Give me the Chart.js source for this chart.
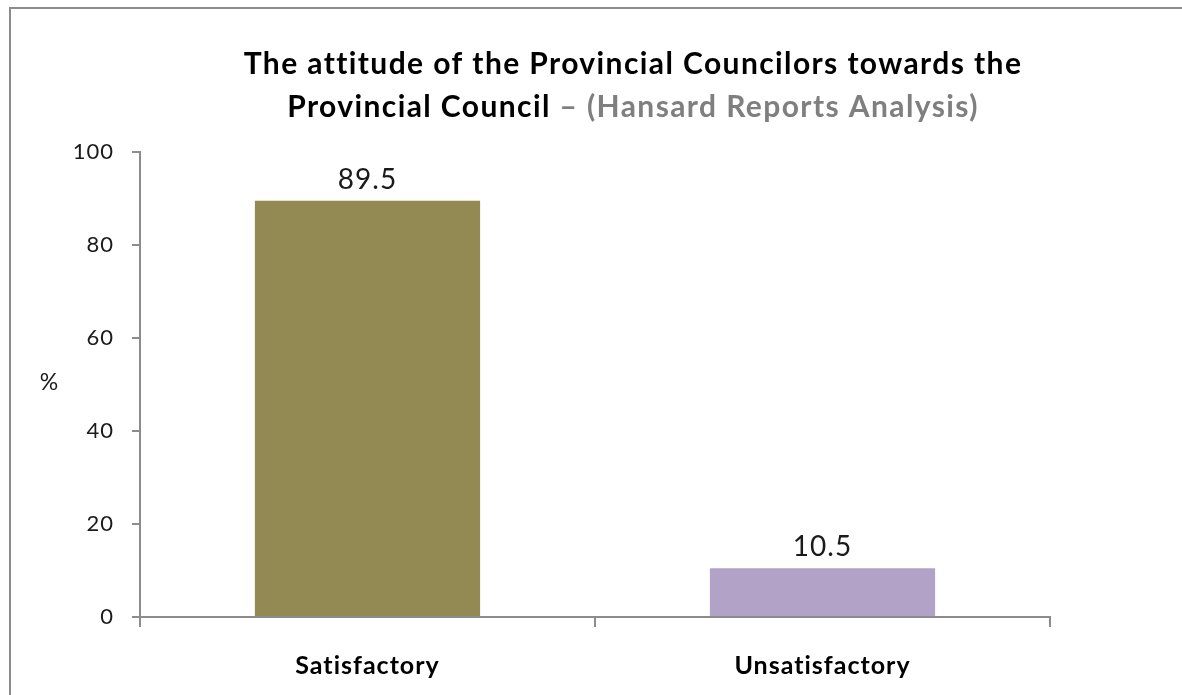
<!DOCTYPE html>
<html>
<head>
<meta charset="utf-8">
<script src="https://cdn.jsdelivr.net/npm/chart.js@4/dist/chart.umd.min.js"></script>
<style>
  html, body { margin: 0; padding: 0; background: #fff; }
  #wrap { width: 1182px; height: 695px; }
</style>
</head>
<body>
<div id="wrap"><canvas id="attitude-chart" width="1182" height="695"></canvas></div>
<script>
// --- data ---
const categories = ['Satisfactory', 'Unsatisfactory'];
const percentValues = [89.5, 10.5];
const barColors = ['#938953', '#B3A2C7'];
const yTicks = [0, 20, 40, 60, 80, 100];
const titleLine1 = 'The attitude of the Provincial Councilors towards the';
const titleLine2a = 'Provincial Council ';
const titleLine2b = '– (Hansard Reports Analysis)';
const yAxisLabel = '%';

const FONT = 'Lato, "Open Sans", sans-serif';

// frame, two-colour title, "%" label and value labels on top of the bars
const decorations = {
    id: 'decorations',
    beforeDraw(chart) {
        const ctx = chart.ctx;
        ctx.save();
        ctx.fillStyle = '#fff';
        ctx.fillRect(0, 0, chart.width, chart.height);
        ctx.strokeStyle = '#8c8c8c';
        ctx.lineWidth = 2;
        ctx.strokeRect(10, 8, 1300, 900);
        ctx.restore();
        // slightly looser text for the axis labels
        ctx.letterSpacing = '1px';
    },
    afterDraw(chart) {
        const ctx = chart.ctx;
        ctx.save();
        ctx.textBaseline = 'middle';

        // title
        ctx.font = 'bold 30px ' + FONT;
        ctx.letterSpacing = '1.4px';
        ctx.fillStyle = '#000';
        ctx.textAlign = 'center';
        ctx.fillText(titleLine1, 633, 64);
        const wa = ctx.measureText(titleLine2a).width;
        const wb = ctx.measureText(titleLine2b).width;
        const startX = 633 - (wa + wb) / 2;
        ctx.textAlign = 'left';
        ctx.fillText(titleLine2a, startX, 107);
        ctx.fillStyle = '#7f7f7f';
        ctx.fillText(titleLine2b, startX + wa, 107);

        // y axis label
        ctx.letterSpacing = '0px';
        ctx.font = '23px ' + FONT;
        ctx.fillStyle = '#1a1a1a';
        ctx.textAlign = 'center';
        ctx.fillText(yAxisLabel, 49, 383);

        // value labels
        ctx.font = '28px ' + FONT;
        ctx.letterSpacing = '1px';
        ctx.textBaseline = 'bottom';
        const meta = chart.getDatasetMeta(0);
        meta.data.forEach((bar, i) => {
            ctx.fillText(String(percentValues[i]), bar.x, bar.y - 7);
        });
        ctx.restore();
    }
};

const ctx = document.getElementById('attitude-chart').getContext('2d');
new Chart(ctx, {
    type: 'bar',
    data: {
        labels: categories,
        datasets: [{
            data: percentValues,
            backgroundColor: barColors,
            borderWidth: 0,
            categoryPercentage: 1.0,
            barPercentage: 0.495
        }]
    },
    options: {
        responsive: false,
        animation: false,
        layout: { padding: { top: 152, right: 132, bottom: 0, left: 0 } },
        plugins: {
            legend: { display: false },
            tooltip: { enabled: false },
            title: { display: false }
        },
        scales: {
            x: {
                offset: true,
                grid: {
                    offset: true,
                    drawOnChartArea: false,
                    drawTicks: true,
                    tickLength: 10,
                    color: '#8c8c8c',
                    lineWidth: 2
                },
                border: { color: '#8c8c8c', width: 2 },
                ticks: {
                    color: '#000',
                    padding: 24,
                    font: { family: FONT, size: 25, weight: 'bold' }
                },
                afterFit(scale) { scale.height = 695 - 617; }
            },
            y: {
                min: 0,
                max: 100,
                afterBuildTicks(scale) {
                    scale.ticks = yTicks.map(v => ({ value: v }));
                },
                grid: {
                    drawOnChartArea: false,
                    drawTicks: true,
                    tickLength: 8,
                    color: '#8c8c8c',
                    lineWidth: 2
                },
                border: { color: '#8c8c8c', width: 2 },
                ticks: {
                    color: '#1a1a1a',
                    padding: 18,
                    font: { family: FONT, size: 22 }
                },
                afterFit(scale) { scale.width = 140; }
            }
        }
    },
    plugins: [decorations]
});
</script>
</body>
</html>
